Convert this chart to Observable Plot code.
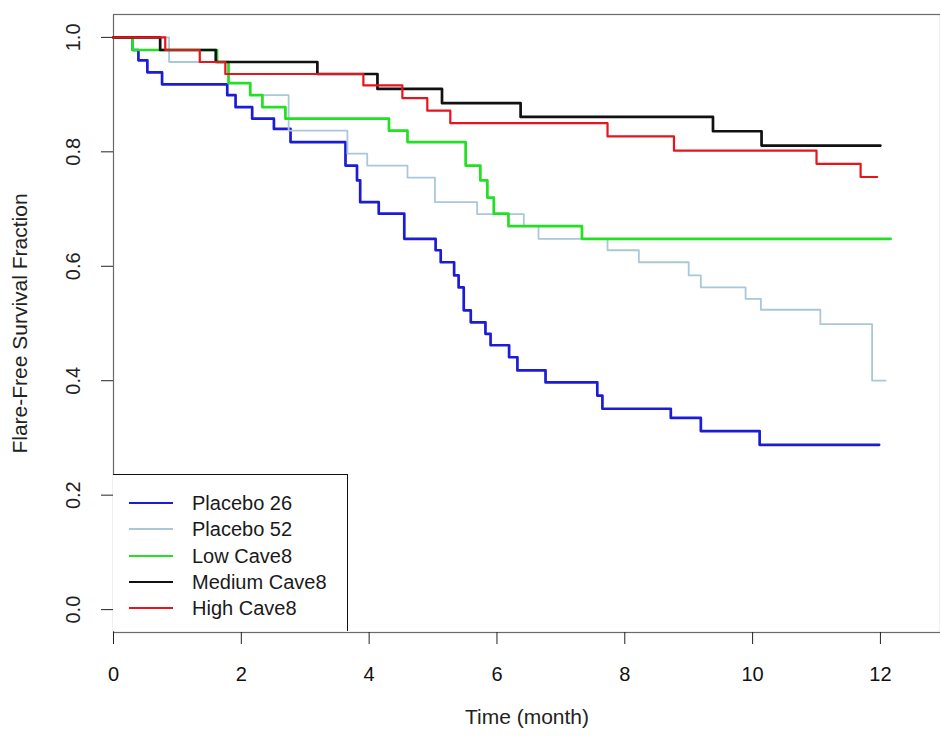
<!DOCTYPE html>
<html>
<head>
<meta charset="utf-8">
<script src="https://cdn.jsdelivr.net/npm/d3@7"></script>
<script src="https://cdn.jsdelivr.net/npm/@observablehq/plot@0.6"></script>
<style>
  html, body { margin: 0; padding: 0; background: #fff; }
  #wrap { position: relative; width: 940px; height: 736px; font-family: "Liberation Sans", Arial, sans-serif; }
  #legend { position: absolute; left: 113px; top: 474px; width: 235px; height: 157px;
            border-top: 1.3px solid #111; border-right: 1.3px solid #111; box-sizing: border-box; background: #fff; }
  .lrow { position: absolute; left: 0; height: 26px; width: 235px; }
  .lline { position: absolute; left: 16px; width: 44px; top: 12px; }
  .ltext { position: absolute; left: 79px; top: 0; line-height: 26px; font-size: 20px; color: #1a1a1a; white-space: nowrap; }
</style>
</head>
<body>
<div id="wrap"></div>
<script>
// Series
const seriesNames  = ["Placebo 26", "Placebo 52", "Low Cave8", "Medium Cave8", "High Cave8"];
const seriesColors = ["#1c1cd8", "#a9c8d8", "#22e022", "#111111", "#e8141c"];
const seriesWidths = [2.7, 1.8, 2.7, 2.7, 2.2];

// Kaplan-Meier steps (time in months, survival fraction)
const placebo26Time = [0, 0.30, 0.39, 0.53, 0.76, 1.78, 1.91, 2.17, 2.51, 2.77, 3.63, 3.81, 3.86, 4.15, 4.55, 5.04, 5.12, 5.33, 5.40, 5.48, 5.59, 5.82, 5.90, 6.19, 6.32, 6.76, 7.57, 7.65, 8.72, 9.19, 10.11, 11.98];
const placebo26Surv = [1.0, 0.978, 0.960, 0.939, 0.918, 0.899, 0.878, 0.858, 0.840, 0.817, 0.776, 0.750, 0.712, 0.692, 0.648, 0.628, 0.607, 0.584, 0.563, 0.523, 0.502, 0.482, 0.462, 0.441, 0.418, 0.397, 0.374, 0.351, 0.335, 0.312, 0.288, 0.288];

const placebo52Time = [0, 0.87, 1.80, 2.14, 2.74, 3.66, 3.97, 4.60, 5.03, 5.69, 6.42, 6.65, 7.73, 8.22, 9.00, 9.19, 9.89, 10.13, 11.06, 11.87, 12.08];
const placebo52Surv = [1.0, 0.957, 0.920, 0.899, 0.837, 0.797, 0.776, 0.755, 0.712, 0.691, 0.670, 0.648, 0.628, 0.607, 0.584, 0.563, 0.543, 0.524, 0.499, 0.400, 0.400];

const lowTime = [0, 0.30, 1.62, 1.80, 2.14, 2.33, 2.69, 4.31, 4.60, 5.51, 5.74, 5.85, 5.95, 6.18, 7.33, 12.16];
const lowSurv = [1.0, 0.978, 0.957, 0.920, 0.899, 0.878, 0.858, 0.837, 0.817, 0.776, 0.750, 0.720, 0.692, 0.670, 0.648, 0.648];

const mediumTime = [0, 0.73, 1.60, 3.19, 4.13, 5.14, 6.37, 9.38, 10.14, 12.00];
const mediumSurv = [1.0, 0.978, 0.957, 0.936, 0.910, 0.885, 0.861, 0.836, 0.811, 0.811];

const highTime = [0, 0.81, 1.35, 1.75, 3.91, 4.52, 4.91, 5.27, 7.73, 8.77, 11.00, 11.69, 11.95];
const highSurv = [1.0, 0.978, 0.957, 0.936, 0.916, 0.894, 0.872, 0.850, 0.827, 0.802, 0.779, 0.756, 0.756];

// Axes
const xTicks = [0, 2, 4, 6, 8, 10, 12];
const yTicks = [0, 0.2, 0.4, 0.6, 0.8, 1.0];
const xTitle = "Time (month)";
const yTitle = "Flare-Free Survival Fraction";

const seriesTimes = [placebo26Time, placebo52Time, lowTime, mediumTime, highTime];
const seriesSurvs = [placebo26Surv, placebo52Surv, lowSurv, mediumSurv, highSurv];

const curves = seriesNames.map((name, i) =>
  seriesTimes[i].map((t, j) => ({series: name, t, s: seriesSurvs[i][j]}))
);

const font = "Liberation Sans, Arial, sans-serif";

const chart = Plot.plot({
  width: 940,
  height: 736,
  marginLeft: 113,
  marginRight: 0,
  marginTop: 14,
  marginBottom: 104,
  style: {fontFamily: font, background: "#fff", color: "#111"},
  x: {domain: [0, 12.94]},
  y: {domain: [-0.04, 1.04]},
  marks: [
    Plot.frame({stroke: "#6a6a6a", strokeWidth: 1.2}),
    Plot.axisX({ticks: xTicks, tickSize: 12, tickPadding: 22, fontSize: 20, label: null, tickFormat: d => String(d), stroke: "#222"}),
    Plot.axisY({ticks: yTicks, tickSize: 12, tickFormat: () => "", label: null, stroke: "#222"}),
    Plot.text(yTicks, {y: d => d, text: d => d.toFixed(1), frameAnchor: "left", textAnchor: "middle", dx: -40, rotate: -90, fontSize: 20, fill: "#222"}),
    Plot.text([yTitle], {text: d => d, frameAnchor: "left", textAnchor: "middle", dx: -93, rotate: -90, fontSize: 21, fill: "#222"}),
    Plot.text([xTitle], {text: d => d, frameAnchor: "bottom", dy: 91, fontSize: 21, fill: "#222"}),
    ...curves.map((data, i) => Plot.line(data, {
      x: "t", y: "s", curve: "step-after",
      stroke: seriesColors[i], strokeWidth: seriesWidths[i]
    }))
  ]
});

const wrap = document.getElementById("wrap");
wrap.appendChild(chart);

// Legend (inside the plot area, bottom-left)
const legend = document.createElement("div");
legend.id = "legend";
seriesNames.forEach((name, i) => {
  const row = document.createElement("div");
  row.className = "lrow";
  row.style.top = (15 + i * 26.25) + "px";
  const line = document.createElement("div");
  line.className = "lline";
  line.style.borderTop = `${Math.max(2, seriesWidths[i])}px solid ${seriesColors[i]}`;
  const txt = document.createElement("div");
  txt.className = "ltext";
  txt.textContent = name;
  row.appendChild(line);
  row.appendChild(txt);
  legend.appendChild(row);
});
wrap.appendChild(legend);
</script>
</body>
</html>
